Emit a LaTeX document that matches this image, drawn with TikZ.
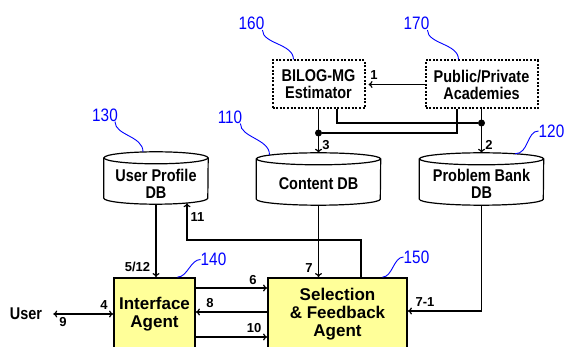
\documentclass[tikz,border=0pt]{standalone}
\usepackage{fontspec}
\setmainfont{Liberation Sans}
\newfontfamily\narrowfont[FakeStretch=0.85]{Liberation Sans}
\usetikzlibrary{arrows.meta}

\definecolor{agentyellow}{RGB}{255,255,153}
\definecolor{refblue}{RGB}{0,0,255}

\tikzset{
  flow/.style={line width=1.2pt,->},
  link/.style={line width=1.2pt},
  dotbox/.style={draw,line width=2pt,dash pattern=on 2pt off 1.6pt,align=center,
    minimum width=92pt,minimum height=48pt,inner sep=0pt,
    font=\narrowfont\bfseries\fontsize{17}{17}\selectfont},
  dbase/.style={minimum width=124pt,minimum height=52pt,inner sep=0pt},
  dbtext/.style={inner sep=0pt,align=center,
    font=\narrowfont\bfseries\fontsize{17}{17}\selectfont},
  agent/.style={draw,fill=agentyellow,line width=1.8pt,minimum height=72pt,align=center,
    font=\bfseries\fontsize{17}{18}\selectfont},
  num/.style={inner sep=0pt,font=\bfseries\fontsize{13}{13}\selectfont},
  refno/.style={inner sep=0pt,text=refblue,font=\narrowfont\fontsize{18}{18}\selectfont},
  leader/.style={draw=refblue,line width=0.9pt},
  joint/.style={circle,fill,inner sep=0pt,minimum size=7pt},
}

% drum outline round a dbase node: #1 node, #2 half width
\newcommand{\drum}[2]{%
  \draw[line width=1.2pt] ([yshift=-6pt]#1.north west) -- ([yshift=6pt]#1.south west)
    arc[start angle=180,end angle=360,x radius=#2,y radius=6pt]
    -- ([yshift=-6pt]#1.north east);
  \draw[line width=1.2pt] ([yshift=-6pt]#1.north) ellipse[x radius=#2,y radius=6pt];}

\begin{document}
\begin{tikzpicture}[x=1pt,y=-1pt,>={To[length=4pt,width=7pt]}]
  \useasboundingbox (0,0) rectangle (565,347);
  \clip (0,0) rectangle (565,347);

  % estimator and data sources
  \node[dotbox] (bilog) at (318.5,84.5) {BILOG-MG\\Estimator};
  \node[dotbox,minimum width=112pt] (academy) at (481.5,84.5) {Public/Private\\Academies};

  % databases, labels sit a little below the middle
  \node[dbase,minimum width=104pt] (profile) at (156,178) {};
  \node[dbase] (content) at (318.5,179) {};
  \node[dbase] (bank) at (481.5,179) {};
  \drum{profile}{52pt}
  \drum{content}{62pt}
  \drum{bank}{62pt}
  \node[dbtext] (profiletxt) at ([yshift=-6pt]profile.center) {User Profile\\DB};
  \node[dbtext] (contenttxt) at ([yshift=-5pt]content.center) {Content DB};
  \node[dbtext] (banktxt) at ([yshift=-5pt]bank.center) {Problem Bank\\DB};

  % agents
  \node[agent,minimum width=81pt] (iface) at (154.5,314) {Interface\\Agent};
  \node[agent,minimum width=139pt] (select) at (337.5,314) {Selection\\\& Feedback\\Agent};
  \node[inner sep=0pt,font=\narrowfont\bfseries\fontsize{17}{17}\selectfont] (user) at (26,314) {User};

  % top part
  \node[joint] (j2) at (481.5,123) {};
  \node[joint] (j3) at (318.5,133) {};
  \draw[flow,shorten >=3pt] (academy.west) -- (bilog.east);
  \draw[link] ([xshift=18.5pt]bilog.south) |- (j2);
  \draw[link] ([xshift=-24.5pt]academy.south) |- (j3);
  \draw[flow] (bilog.south) -- (content.north);
  \draw[flow] (academy.south) -- (bank.north);
  \node[num] (n1) at (374,75) {1};
  \node[num] (n2) at (489,145) {2};
  \node[num] (n3) at (326,145) {3};

  % databases to agents
  \draw[flow] (profile.south) -- (profile.south |- iface.north);
  \draw[flow] (content.south) -- (content.south |- select.north);
  \draw[flow] (bank.south) |- ([yshift=3pt]select.east);
  \coordinate (fb) at (361,240);
  \draw[flow] (select.north -| fb) -- (fb) -| ([xshift=31pt,yshift=1pt]profile.south);
  \node[num] (n512) at (137.5,267) {5/12};
  \node[num] (n7) at (309,268) {7};
  \node[num] (n71) at (425,302) {7-1};
  \node[num] (n11) at (197.5,217) {11};

  % agents and user
  \draw[<->,line width=1.2pt,shorten <=11pt] (user.east) -- (iface.west);
  \draw[flow] ([yshift=26pt]iface.east) -- ([yshift=26pt]select.west);
  \draw[flow] ([yshift=2pt]select.west) -- ([yshift=2pt]iface.east);
  \draw[flow] ([yshift=-23pt]iface.east) -- ([yshift=-23pt]select.west);
  \node[num] (n4) at (104,305) {4};
  \node[num] (n9) at (63,322) {9};
  \node[num] (n6) at (253,280) {6};
  \node[num] (n8) at (210,303) {8};
  \node[num] (n10) at (254,328) {10};

  % reference numbers
  \node[refno] (r160) at (251.5,23.5) {160};
  \node[refno] (r170) at (416.5,23.5) {170};
  \node[refno] (r130) at (105,115) {130};
  \node[refno] (r110) at (230,117) {110};
  \node[refno] (r120) at (551.5,131) {120};
  \node[refno] (r140) at (213.5,259.5) {140};
  \node[refno] (r150) at (416.5,257) {150};
  \draw[leader] ([xshift=-2pt]r160.south east) .. controls +(0,14) and +(0,-16) .. ([xshift=-25pt]bilog.north);
  \draw[leader] ([xshift=-2pt]r170.south east) .. controls +(0,14) and +(0,-16) .. ([xshift=-23pt]academy.north);
  \draw[leader] ([xshift=-3pt]r130.south east) .. controls +(0,14) and +(0,-16) .. ([xshift=-13pt]profile.north);
  \draw[leader] ([xshift=-2pt]r110.south east) .. controls +(0,14) and +(0,-16) .. ([xshift=-49pt,yshift=-2pt]content.north);
  \draw[leader] (r120.west) .. controls +(-12,0) and +(14,0) .. ([xshift=33.5pt,yshift=-1pt]bank.north);
  \draw[leader] (r140.west) .. controls +(-10,0) and +(10,0) .. ([xshift=23pt]iface.north);
  \draw[leader] (r150.west) .. controls +(-10,0) and +(10,0) .. ([xshift=45pt]select.north);
\end{tikzpicture}
\end{document}
